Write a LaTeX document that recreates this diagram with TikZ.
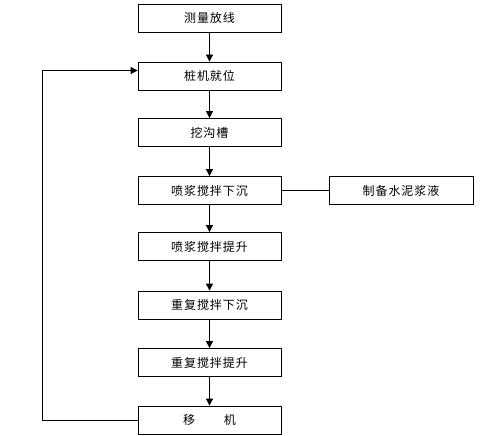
\documentclass[tikz,border=0pt]{standalone}
\usepackage{fontspec}
\setmainfont{Noto Sans CJK SC}[LetterSpace=8]
\usetikzlibrary{arrows.meta}
\tikzset{
  stepbox/.style={draw=black,line width=0.8pt,minimum width=143pt,minimum height=28pt,inner sep=0pt,font=\fontsize{12}{14}\selectfont},
  flow/.style={-{Triangle[length=7pt,width=7pt]},line width=0.8pt}
}
\begin{document}
\begin{tikzpicture}[x=1pt,y=-1pt]
\useasboundingbox (0,0) rectangle (488,436);
\node[stepbox] (s1) at (209.5,18){测量放线};
\node[stepbox] (s2) at (209.5,76){桩机就位};
\node[stepbox] (s3) at (209.5,132.5){挖沟槽};
\node[stepbox] (s4) at (209.5,190.5){喷浆搅拌下沉};
\node[stepbox] (s5) at (209.5,246.5){喷浆搅拌提升};
\node[stepbox] (s6) at (209.5,305){重复搅拌下沉};
\node[stepbox] (s7) at (209.5,362.5){重复搅拌提升};
\node[stepbox] (s8) at (209.5,420){移\hspace{2.4em}机};
\node[stepbox,minimum width=144pt] (c1) at (401,190.5){制备水泥浆液};

\coordinate (b1) at (42,420);
\coordinate (b2) at (42,70.5);

\path [flow] (s1) edge (s2);
\path [flow] (s2) edge (s3);
\path [flow] (s3) edge (s4);
\path [flow] (s4) edge (s5);
\path [flow] (s5) edge (s6);
\path [flow] (s6) edge (s7);
\path [flow] (s7) edge (s8);
\path [-,line width=0.8pt] (s4) edge (c1);
%%%%%%%%
\draw [flow] (s8.west) -- (b1) -- (b2) -- (s2.west |- b2);
\end{tikzpicture}
\end{document}
